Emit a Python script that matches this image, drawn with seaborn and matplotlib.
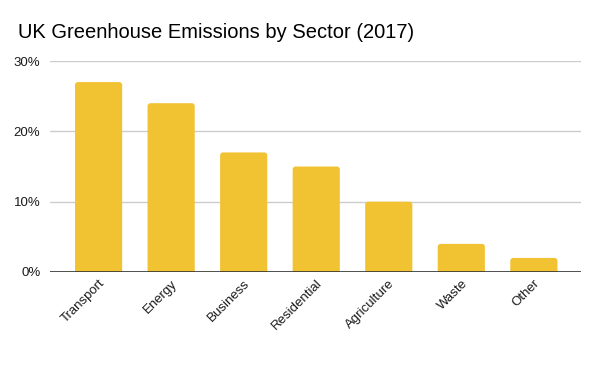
import matplotlib
matplotlib.use("Agg")
import matplotlib.pyplot as plt
from matplotlib.patches import FancyBboxPatch
from matplotlib.ticker import FuncFormatter
import seaborn as sns
import pandas as pd

sectors = ["Transport", "Energy", "Business", "Residential", "Agriculture", "Waste", "Other"]
share = [27, 24, 17, 15, 10, 4, 2]

df = pd.DataFrame({"sector": sectors, "share": share})

sns.set_theme(style="white")
plt.rcParams["font.family"] = ["Liberation Sans", "DejaVu Sans"]

fig = plt.figure(figsize=(6, 3.71), dpi=100)
ax = fig.add_axes([50 / 600, 1 - 272 / 371, 531 / 600, 211 / 371])

sns.barplot(data=df, x="sector", y="share", color="#f1c232", saturation=1,
            width=0.65, ax=ax)

# rounded tops: swap each rectangle for a rounded box that dips below zero
for p in list(ax.patches):
    x, w, h = p.get_x(), p.get_width(), p.get_height()
    box = FancyBboxPatch((x, -1), w, h + 1,
                         boxstyle="round,pad=0,rounding_size=0.04",
                         mutation_aspect=10.5, facecolor="#f1c232",
                         edgecolor="none", zorder=2)
    p.remove()
    ax.add_patch(box)

ax.set_ylim(0, 30)
ax.set_xlim(-0.67, 6.65)
ax.set_yticks([0, 10, 20, 30])
ax.yaxis.set_major_formatter(FuncFormatter(lambda v, _: f"{v:.0f}%"))
ax.grid(axis="y", color="#cccccc", linewidth=1)
ax.set_axisbelow(True)
ax.axhline(0, color="#333333", linewidth=1.2, zorder=3)
for s in ax.spines.values():
    s.set_visible(False)

ax.set_xlabel("")
ax.set_ylabel("")
ax.tick_params(axis="both", length=0, labelsize=9.5, colors="#1a1a1a")
ax.tick_params(axis="y", pad=7)
ax.tick_params(axis="x", pad=4)
plt.setp(ax.get_xticklabels(), rotation=45, ha="right", rotation_mode="anchor")

fig.text(18 / 600, 1 - 33 / 371, "UK Greenhouse Emissions by Sector (2017)",
         fontsize=14.5, color="#000000", va="center", ha="left")

fig.savefig("out.png", dpi=100, facecolor="white")
